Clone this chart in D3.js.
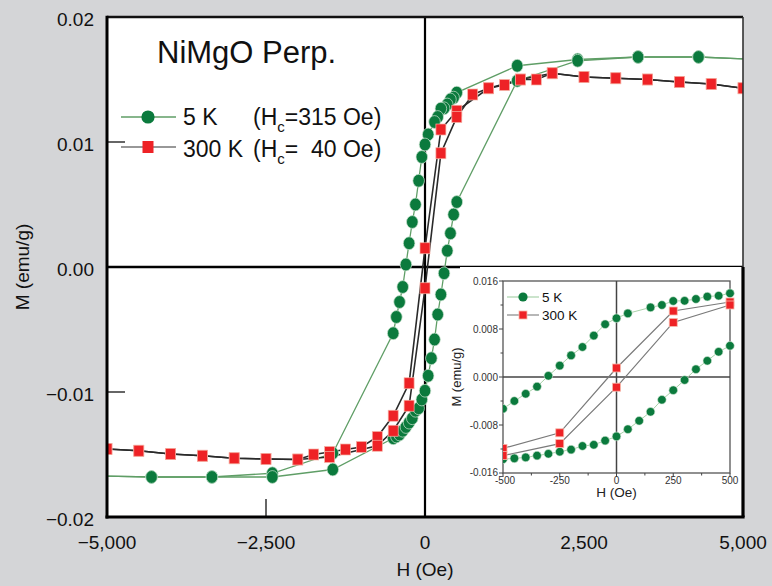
<!DOCTYPE html>
<html>
<head>
<meta charset="utf-8">
<script src="https://cdn.jsdelivr.net/npm/d3@7"></script>
<style>
  html, body { margin: 0; padding: 0; background: #d4d5d7; }
  svg { display: block; }
  text { font-family: "Liberation Sans", Arial, Helvetica, sans-serif; fill: #111; }
  .narrow { font-family: "Liberation Sans Narrow", "Liberation Sans", Arial, sans-serif; }
</style>
</head>
<body>
<svg id="chart" width="772" height="586"></svg>
<script>
// ---- 5 K loop (green circles) ----
// field sweep from +H down to -H
const h5Down = [5250, 4300, 3350, 2400, 1450, 500, 450, 400, 350, 300, 250, 200, 150, 50, 0,
  -50, -100, -150, -200, -250, -300, -350, -400, -450, -500, -1450, -2400, -3350, -4300, -5250];
const m5Down = [0.0166, 0.0168, 0.0168, 0.0166, 0.0161, 0.01395, 0.01355, 0.0134, 0.0130, 0.0127, 0.01267, 0.0120, 0.0116, 0.0106, 0.0098,
  0.0088, 0.0069, 0.0050, 0.0036, 0.0019, 0.0002, -0.0016, -0.0028, -0.0040, -0.0053, -0.0149, -0.0165, -0.0168, -0.0168, -0.0167];
// field sweep from -H back up to +H
const h5Up = [-5250, -4300, -3350, -2400, -1450, -500, -450, -400, -350, -300, -250, -200, -150, -100, -50, 0,
  50, 100, 150, 200, 250, 300, 350, 400, 450, 500, 1450, 2400, 3350, 4300, 5250];
const m5Up = [-0.0167, -0.0168, -0.0168, -0.0168, -0.0162, -0.0137, -0.01356, -0.0134, -0.0131, -0.0128, -0.01245, -0.0121, -0.0115, -0.0113, -0.0106, -0.0099,
  -0.0087, -0.0073, -0.0058, -0.0038, -0.0022, -0.0005, 0.0013, 0.0027, 0.0042, 0.0052, 0.0149, 0.0165, 0.0168, 0.0168, 0.0166];

// ---- 300 K loop (red squares) ----
const h300Down = [5000, 4500, 4000, 3500, 3000, 2500, 2000, 1500, 1000, 500, 250, 0, -250, -500, -750, -1000, -1250,
  -1500, -1750, -2000, -2500, -3000, -3500, -4000, -4500, -5000];
const m300Down = [0.0143, 0.01464, 0.0148, 0.0150, 0.0151, 0.0152, 0.0155, 0.0150, 0.0143, 0.0125, 0.0110, 0.0015, -0.0093, -0.0119, -0.0136, -0.0144, -0.0146,
  -0.0148, -0.0150, -0.0154, -0.01536, -0.0153, -0.0151, -0.01496, -0.0147, -0.01456];
const h300Up = [-5000, -4500, -4000, -3500, -3000, -2500, -2000, -1500, -750, -500, -250, 0, 250, 500, 750, 1000, 1250,
  1500, 1750, 2000, 2500, 3000, 3500, 4000, 4500, 5000];
const m300Up = [-0.01456, -0.0147, -0.01496, -0.0151, -0.0153, -0.01536, -0.0154, -0.0152, -0.0143, -0.0131, -0.0111, -0.0017, 0.0091, 0.0120, 0.0138, 0.0143, 0.01456,
  0.0150, 0.0150, 0.0155, 0.0152, 0.0151, 0.0150, 0.0148, 0.01464, 0.0143];

// ---- axes ----
const xTicks = [-5000, -2500, 0, 2500, 5000];
const xTickLabels = ["\u22125,000", "\u22122,500", "0", "2,500", "5,000"];
const yTicks = [0.02, 0.01, 0.00, -0.01, -0.02];
const yTickLabels = ["0.02", "0.01", "0.00", "\u22120.01", "\u22120.02"];
const insetXTicks = [-500, -250, 0, 250, 500];
const insetXTickLabels = ["-500", "-250", "0", "250", "500"];
const insetYTicks = [0.016, 0.008, 0, -0.008, -0.016];
const insetYTickLabels = ["0.016", "0.008", "0.000", "-0.008", "-0.016"];

const zip = (hs, ms) => hs.map((h, i) => ({ h, m: ms[i] }));
const s5Down = zip(h5Down, m5Down), s5Up = zip(h5Up, m5Up);
const s300Down = zip(h300Down, m300Down), s300Up = zip(h300Up, m300Up);

const GREEN = "#0b7a3d", GREEN_LINE = "#5f9e66", RED = "#ee2226";
const svg = d3.select("#chart");

// ===== main panel =====
const L = 107, R = 743, T = 17, B = 517;
const x = d3.scaleLinear().domain([-5000, 5000]).range([L, R]);
const y = d3.scaleLinear().domain([-0.02, 0.02]).range([B, T]);

svg.append("rect").attr("x", L).attr("y", T).attr("width", R - L).attr("height", B - T).attr("fill", "#fff");

const defs = svg.append("defs");
defs.append("clipPath").attr("id", "mainClip")
  .append("rect").attr("x", L).attr("y", T).attr("width", R - L).attr("height", B - T);

// zero lines
svg.append("line").attr("x1", x(0)).attr("x2", x(0)).attr("y1", T).attr("y2", B)
  .attr("stroke", "#000").attr("stroke-width", 2.2);
svg.append("line").attr("x1", L).attr("x2", R).attr("y1", y(0)).attr("y2", y(0))
  .attr("stroke", "#000").attr("stroke-width", 2.6);

// inward ticks
[0.01, -0.01].forEach(v => svg.append("line").attr("x1", L).attr("x2", L + 18)
  .attr("y1", y(v)).attr("y2", y(v)).attr("stroke", "#333").attr("stroke-width", 1.5));
[-2500, 2500].forEach(v => svg.append("line").attr("x1", x(v)).attr("x2", x(v))
  .attr("y1", B).attr("y2", B - 18).attr("stroke", "#333").attr("stroke-width", 1.5));

const plot = svg.append("g").attr("clip-path", "url(#mainClip)");
const line = d3.line().x(d => x(d.h)).y(d => y(d.m));

[s5Down, s5Up].forEach(s => plot.append("path").attr("d", line(s))
  .attr("fill", "none").attr("stroke", GREEN_LINE).attr("stroke-width", 1.3));
[s300Down, s300Up].forEach(s => plot.append("path").attr("d", line(s))
  .attr("fill", "none").attr("stroke", "#2a2a2a").attr("stroke-width", 1.6));

[s5Down, s5Up].forEach(s => plot.selectAll(null).data(s).enter().append("ellipse")
  .attr("cx", d => x(d.h)).attr("cy", d => y(d.m)).attr("rx", 5.8).attr("ry", 6.4)
  .attr("fill", GREEN).attr("stroke", "#cfe5d2").attr("stroke-width", 0.7));
[s300Down, s300Up].forEach(s => plot.selectAll(null).data(s).enter().append("rect")
  .attr("x", d => x(d.h) - 5).attr("y", d => y(d.m) - 5.5).attr("width", 10).attr("height", 11)
  .attr("fill", RED).attr("stroke", "#f6b3a6").attr("stroke-width", 0.7));

// ===== inset panel =====
const iL = 503, iR = 730, iT = 281, iB = 473;
svg.append("rect").attr("x", 460).attr("y", y(0)).attr("width", R - 460).attr("height", B - y(0)).attr("fill", "#fff");
const ix = d3.scaleLinear().domain([-500, 500]).range([iL, iR]);
const iy = d3.scaleLinear().domain([-0.016, 0.016]).range([iB, iT]);
defs.append("clipPath").attr("id", "insetClip")
  .append("rect").attr("x", iL).attr("y", iT - 6).attr("width", iR - iL + 6).attr("height", iB - iT + 12);

const inset = svg.append("g");
inset.append("rect").attr("x", iL).attr("y", iT).attr("width", iR - iL).attr("height", iB - iT)
  .attr("fill", "#fff").attr("stroke", "#555").attr("stroke-width", 1.3);
inset.append("line").attr("x1", ix(0)).attr("x2", ix(0)).attr("y1", iT).attr("y2", iB)
  .attr("stroke", "#444").attr("stroke-width", 1.5);
inset.append("line").attr("x1", iL).attr("x2", iR).attr("y1", iy(0)).attr("y2", iy(0))
  .attr("stroke", "#444").attr("stroke-width", 1.5);

// inset ticks (major + minor)
d3.range(-500, 501, 125).forEach(v => inset.append("line").attr("x1", ix(v)).attr("x2", ix(v))
  .attr("y1", iB).attr("y2", iB + (v % 250 === 0 ? 4 : 2.5)).attr("stroke", "#444").attr("stroke-width", 1));
d3.range(-4, 5).forEach(k => {
  const v = k * 0.004;
  inset.append("line").attr("x1", iL).attr("x2", iL - (k % 2 === 0 ? 4 : 2.5))
    .attr("y1", iy(v)).attr("y2", iy(v)).attr("stroke", "#444").attr("stroke-width", 1);
});
insetXTicks.forEach((v, i) => inset.append("text").attr("class", "narrow")
  .attr("x", ix(v) + (i === 0 ? 2 : 0)).attr("y", iB + 10.5).attr("text-anchor", "middle")
  .attr("font-size", 10).style("fill", "#333").text(insetXTickLabels[i]));
insetYTicks.forEach((v, i) => inset.append("text").attr("class", "narrow")
  .attr("x", iL - 5).attr("y", iy(v) + 3.5 - (i === 4 ? 1 : 0)).attr("text-anchor", "end")
  .attr("font-size", 10).style("fill", "#333").text(insetYTickLabels[i]));
inset.append("text").attr("x", ix(0)).attr("y", 497).attr("text-anchor", "middle")
  .attr("font-size", 13.5).style("fill", "#222").text("H (Oe)");
inset.append("text").attr("transform", `translate(461,${iy(0)}) rotate(-90)`).attr("text-anchor", "middle")
  .attr("font-size", 13).style("fill", "#222").text("M (emu/g)");

const near = s => s.filter(d => Math.abs(d.h) <= 500);
const iline = d3.line().x(d => ix(d.h)).y(d => iy(d.m));
const ig = inset.append("g").attr("clip-path", "url(#insetClip)");
[s300Down, s300Up].forEach(s => ig.append("path").attr("d", iline(near(s)))
  .attr("fill", "none").attr("stroke", "#7a7a7a").attr("stroke-width", 1.2));
[s5Down, s5Up].forEach(s => ig.append("path").attr("d", iline(near(s)))
  .attr("fill", "none").attr("stroke", "#a9d2aa").attr("stroke-width", 1));
[s5Down, s5Up].forEach(s => ig.selectAll(null).data(near(s)).enter().append("circle")
  .attr("cx", d => ix(d.h)).attr("cy", d => iy(d.m)).attr("r", 4.3)
  .attr("fill", GREEN).attr("stroke", "#d5ead7").attr("stroke-width", 0.6));
[s300Down, s300Up].forEach(s => ig.selectAll(null).data(near(s)).enter().append("rect")
  .attr("x", d => ix(d.h) - 4).attr("y", d => iy(d.m) - 4).attr("width", 8).attr("height", 8)
  .attr("fill", RED).attr("stroke", "#f7b8aa").attr("stroke-width", 0.8));

// inset legend
const il = inset.append("g");
il.append("line").attr("x1", 507).attr("x2", 539).attr("y1", 297).attr("y2", 297).attr("stroke", "#a9d2aa").attr("stroke-width", 1.2);
il.append("circle").attr("cx", 523).attr("cy", 297).attr("r", 4.6).attr("fill", GREEN);
il.append("text").attr("x", 542).attr("y", 302).attr("font-size", 13.5).text("5 K");
il.append("line").attr("x1", 507).attr("x2", 539).attr("y1", 315).attr("y2", 315).attr("stroke", "#888").attr("stroke-width", 1.2);
il.append("rect").attr("x", 519).attr("y", 311).attr("width", 8).attr("height", 8).attr("fill", RED).attr("stroke", "#f7b8aa").attr("stroke-width", 0.8);
il.append("text").attr("x", 542).attr("y", 320).attr("font-size", 13.5).text("300 K");

// ===== main frame =====
svg.append("line").attr("x1", L).attr("x2", R).attr("y1", T).attr("y2", T).attr("stroke", "#111").attr("stroke-width", 2.4);
svg.append("line").attr("x1", R).attr("x2", R).attr("y1", T).attr("y2", y(0)).attr("stroke", "#333").attr("stroke-width", 1.6);
svg.append("line").attr("x1", R).attr("x2", R).attr("y1", y(0)).attr("y2", B).attr("stroke", "#000").attr("stroke-width", 3.2);
svg.append("line").attr("x1", L).attr("x2", L).attr("y1", T - 1.2).attr("y2", B + 1.5).attr("stroke", "#000").attr("stroke-width", 3);
svg.append("line").attr("x1", L - 1.5).attr("x2", R + 1.6).attr("y1", B).attr("y2", B).attr("stroke", "#000").attr("stroke-width", 3);

// tick labels
yTicks.forEach((v, i) => svg.append("text").attr("x", 94).attr("y", y(v) + 9)
  .attr("text-anchor", "end").attr("font-size", 19).text(yTickLabels[i]));
xTicks.forEach((v, i) => svg.append("text").attr("x", x(v)).attr("y", 549)
  .attr("text-anchor", "middle").attr("font-size", 19).text(xTickLabels[i]));
svg.append("text").attr("x", x(0)).attr("y", 576).attr("text-anchor", "middle")
  .attr("font-size", 19).text("H (Oe)");
svg.append("text").attr("transform", `translate(29,${y(0)}) rotate(-90)`).attr("text-anchor", "middle")
  .attr("font-size", 19).text("M (emu/g)");

// title and legend
svg.append("text").attr("x", 157).attr("y", 63).attr("font-size", 31).text("NiMgO Perp.");
const lg = svg.append("g");
lg.append("line").attr("x1", 121).attr("x2", 176).attr("y1", 117).attr("y2", 117).attr("stroke", GREEN_LINE).attr("stroke-width", 1.4);
lg.append("circle").attr("cx", 148).attr("cy", 117).attr("r", 6.6).attr("fill", GREEN);
lg.append("line").attr("x1", 121).attr("x2", 176).attr("y1", 147).attr("y2", 147).attr("stroke", "#333").attr("stroke-width", 1.2);
lg.append("rect").attr("x", 142.5).attr("y", 141).attr("width", 11).attr("height", 12).attr("fill", RED);

function legendRow(yb, lead, tail) {
  const t = lg.append("text").attr("y", yb).attr("font-size", 23).style("white-space", "pre");
  t.append("tspan").attr("x", 183).text(lead);
  t.append("tspan").attr("x", 253).text("(H");
  t.append("tspan").attr("dy", 7).attr("font-size", 15).text("c");
  t.append("tspan").attr("dy", -7).text(tail);
}
legendRow(125, "5 K", "=315 Oe)");
legendRow(157, "300 K", "=  40 Oe)");
</script>
</body>
</html>
